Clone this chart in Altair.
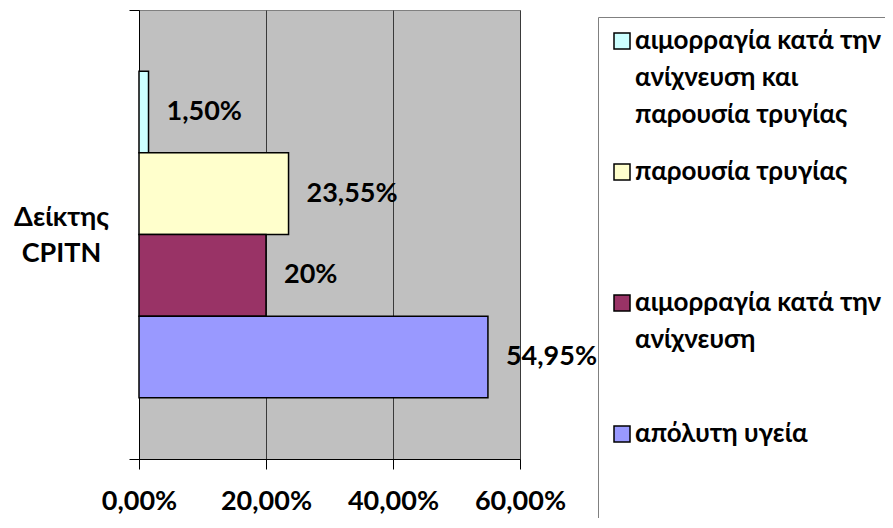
import altair as alt
import pandas as pd

category = "Δείκτης CPITN"
series_lines = [
    ["αιμορραγία κατά την", "ανίχνευση και", "παρουσία τρυγίας"],
    ["παρουσία τρυγίας"],
    ["αιμορραγία κατά την", "ανίχνευση"],
    ["απόλυτη υγεία"],
]
series = [" ".join(l) for l in series_lines]
values = [1.5, 23.55, 20.0, 54.95]
value_labels = ["1,50%", "23,55%", "20%", "54,95%"]
colors = ["#CCFFFF", "#FFFFCC", "#993366", "#9999FF"]
x_ticks = [0, 20, 40, 60]

df = pd.DataFrame({
    "cat": [category] * len(series),
    "series": series,
    "value": values,
    "label": value_labels,
})

FONT = "Lato, 'Open Sans', sans-serif"
FS = 27
LEG_FS = 26

# legend labels: every entry occupies the same number of text rows (blank rows
# pad the shorter ones) so that entries are evenly spaced as in the original
ROWS = 3
legend_expr = ""
for i, (name, lines) in enumerate(zip(series, series_lines)):
    rows = ROWS + (3 if i == len(series) - 1 else 0)
    padded = lines + [""] * (rows - len(lines))
    arr = "[" + ",".join("'" + s + "'" for s in padded) + "]"
    legend_expr += f"datum.label == '{name}' ? {arr} : "
legend_expr += "datum.label"

y_enc = alt.Y(
    "cat:N",
    title=None,
    scale=alt.Scale(paddingInner=0, paddingOuter=0),
    axis=alt.Axis(
        labelExpr="split(datum.label, ' ')",
        labelAlign="center",
        labelBaseline="middle",
        labelPadding=68,
        labelLineHeight=36,
        labelOffset=-17,
        tickBand="extent",
        tickSize=10,
        tickColor="black",
        domainColor="black",
        labelFont=FONT,
        labelFontSize=FS,
        labelFontWeight="bold",
        labelColor="black",
        grid=False,
    ),
)
yoff_enc = alt.YOffset(
    "series:N",
    sort=series,
    scale=alt.Scale(paddingInner=0, paddingOuter=0.75),
)
x_enc = alt.X(
    "value:Q",
    title=None,
    scale=alt.Scale(domain=[0, 60], nice=False),
    axis=alt.Axis(
        values=x_ticks,
        labelExpr="replace(format(datum.value, '.2f'), '.', ',') + '%'",
        labelFlush=False,
        labelOverlap=False,
        tickSize=10,
        tickColor="black",
        domainColor="black",
        labelPadding=19,
        labelFont=FONT,
        labelFontSize=FS,
        labelFontWeight="bold",
        labelColor="black",
        grid=True,
        gridColor="#3a3a3a",
        gridWidth=1,
    ),
)

base = alt.Chart(df)

bars = base.mark_bar(stroke="black", strokeWidth=1.5).encode(
    x=x_enc,
    y=y_enc,
    yOffset=yoff_enc,
    color=alt.Color(
        "series:N",
        sort=series,
        scale=alt.Scale(domain=series, range=colors),
        legend=alt.Legend(
            title=None,
            orient="none",
            legendX=459,
            legendY=7,
            labelExpr=legend_expr,
            labelFont=FONT,
            labelFontSize=LEG_FS,
            labelFontWeight="bold",
            labelColor="black",
            labelLimit=0,
            labelOffset=0,
            symbolType="square",
            symbolSize=256,
            symbolStrokeColor="black",
            symbolStrokeWidth=1.5,
            rowPadding=31,
            padding=11,
            strokeColor="#808080",
            values=series,
        ),
    ),
)

texts = base.mark_text(
    align="left", baseline="middle", dx=18,
    font=FONT, fontSize=FS, fontWeight="bold", color="black",
).encode(
    x="value:Q",
    y="cat:N",
    yOffset=yoff_enc,
    text="label:N",
)

chart = (
    alt.layer(bars, texts)
    .properties(
        width=381,
        height=449,
        autosize=alt.AutoSizeParams(type="none"),
        padding={"left": 131, "top": 2, "right": 365, "bottom": 59},
        background="white",
    )
    .configure(
        view=alt.ViewConfig(fill="#C0C0C0", stroke="#808080"),
        style={"guide-label": {"lineHeight": 37}},
    )
)

chart.save("out.html", embed_options={"renderer": "svg", "actions": False})
